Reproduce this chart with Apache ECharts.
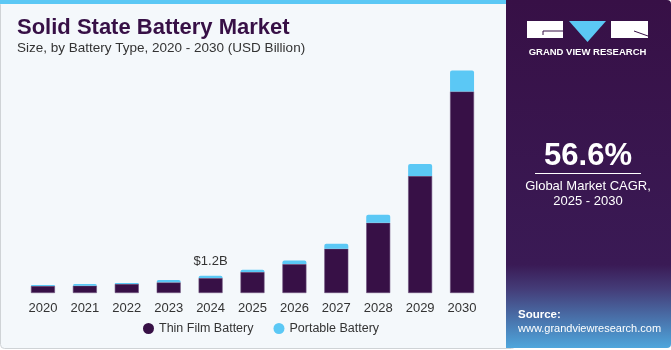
<!DOCTYPE html>
<html>
<head>
<meta charset="utf-8">
<script src="https://cdn.jsdelivr.net/npm/echarts@6/dist/echarts.min.js"></script>
<style>
  html, body { margin: 0; padding: 0; background: #ffffff; }
  #main { width: 671px; height: 350px; }
</style>
</head>
<body>
<div id="main"></div>
<script>
// 年份与数值 (USD Billion)
var years = ['2020', '2021', '2022', '2023', '2024', '2025', '2026', '2027', '2028', '2029', '2030'];
var thinFilm = [0.49, 0.51, 0.63, 0.74, 1.04, 1.46, 2.01, 3.08, 4.88, 8.13, 14.0];
var portable = [0.07, 0.12, 0.07, 0.16, 0.16, 0.16, 0.25, 0.34, 0.56, 0.83, 1.46];
var seriesNames = ['Thin Film Battery', 'Portable Battery'];
var labelIndex = 4;
var labelText = '$1.2B';

var dark = '#371046';
var light = '#5bc8f5';
var font = '"Liberation Sans", Arial, sans-serif';

var myChart = echarts.init(document.getElementById('main'));

// 右侧面板 + 标题等装饰
var graphics = [
    // 左侧面板背景
    { type: 'rect', shape: { x: 0.5, y: 0.5, width: 515, height: 348, r: 4 },
      style: { fill: '#f4f8fb', stroke: '#cfd3d6', lineWidth: 1 }, z: -10 },
    { type: 'rect', shape: { x: 0, y: 0, width: 510, height: 4 }, style: { fill: light }, z: -9 },
    // 右侧面板
    { type: 'rect', shape: { x: 506, y: 0, width: 165, height: 348, r: [0, 4, 4, 0] },
      style: {
          fill: new echarts.graphic.LinearGradient(0, 0, 0, 1, [
              { offset: 0, color: dark },
              { offset: 0.76, color: '#3a1a55' },
              { offset: 0.83, color: '#443c78' },
              { offset: 1, color: '#4ea6dc' }
          ])
      }, z: -8 },
    // 标题
    { type: 'text', left: 17, top: 17,
      style: { text: 'Solid State Battery Market', fill: dark, font: '900 22px ' + font } },
    { type: 'text', left: 17, top: 41,
      style: { text: 'Size, by Battery Type, 2020 - 2030 (USD Billion)', fill: '#333333', font: '13.5px ' + font } },
    // logo
    { type: 'rect', shape: { x: 527, y: 21, width: 36, height: 17 }, style: { fill: '#ffffff' } },
    { type: 'polyline', shape: { points: [[563, 31], [543, 31], [543, 35]] }, style: { stroke: dark, lineWidth: 1, fill: null } },
    { type: 'polygon', shape: { points: [[569, 21], [606, 21], [587.5, 42]] }, style: { fill: light } },
    { type: 'rect', shape: { x: 611, y: 21, width: 37, height: 17 }, style: { fill: '#ffffff' } },
    { type: 'line', shape: { x1: 634, y1: 31, x2: 648, y2: 36 }, style: { stroke: dark, lineWidth: 1 } },
    { type: 'text', x: 587.5, y: 52,
      style: { text: 'GRAND VIEW RESEARCH', fill: '#ffffff', font: 'bold 9.5px ' + font, align: 'center', verticalAlign: 'middle' } },
    // CAGR
    { type: 'text', x: 588, y: 156,
      style: { text: '56.6%', fill: '#ffffff', font: 'bold 31px ' + font, align: 'center', verticalAlign: 'middle' } },
    { type: 'line', shape: { x1: 535, y1: 173.5, x2: 641, y2: 173.5 }, style: { stroke: '#ffffff', lineWidth: 1 } },
    { type: 'text', x: 588, y: 186,
      style: { text: 'Global Market CAGR,', fill: '#ffffff', font: '13px ' + font, align: 'center', verticalAlign: 'middle' } },
    { type: 'text', x: 588, y: 201,
      style: { text: '2025 - 2030', fill: '#ffffff', font: '13px ' + font, align: 'center', verticalAlign: 'middle' } },
    // 来源
    { type: 'text', left: 518, top: 309,
      style: { text: 'Source:', fill: '#ffffff', font: 'bold 11.5px ' + font } },
    { type: 'text', left: 518, top: 323,
      style: { text: 'www.grandviewresearch.com', fill: '#ffffff', font: '11px ' + font } }
];

var option = {
    animation: false,
    textStyle: { fontFamily: font },
    graphic: graphics,
    grid: { left: 22, right: 188, top: 62.6, bottom: 57, containLabel: false },
    legend: {
        bottom: 10,
        left: 138,
        icon: 'circle',
        itemWidth: 11,
        itemHeight: 11,
        itemGap: 20,
        itemStyle: { borderWidth: 0 },
        textStyle: { fontSize: 12.5, color: '#333333', fontFamily: font },
        data: seriesNames
    },
    xAxis: {
        type: 'category',
        data: years,
        axisLine: { show: false },
        axisTick: { show: false },
        axisLabel: { color: '#333333', fontSize: 13, margin: 9, fontFamily: font }
    },
    yAxis: {
        type: 'value',
        min: 0,
        max: 16,
        show: false,
        splitLine: { show: false }
    },
    series: [{
        name: seriesNames[0],
        type: 'bar',
        stack: 'total',
        barWidth: 24,
        itemStyle: { color: dark, borderColor: '#6a4e7a', borderWidth: 0.6 },
        data: thinFilm
    }, {
        name: seriesNames[1],
        type: 'bar',
        stack: 'total',
        barWidth: 24,
        itemStyle: { color: light, borderRadius: [2, 2, 0, 0] },
        label: {
            show: true,
            position: 'top',
            distance: 8,
            color: '#333333',
            fontSize: 13,
            fontFamily: font,
            formatter: function (p) { return p.dataIndex === labelIndex ? labelText : ''; }
        },
        data: portable
    }]
};

myChart.setOption(option);
</script>
</body>
</html>
